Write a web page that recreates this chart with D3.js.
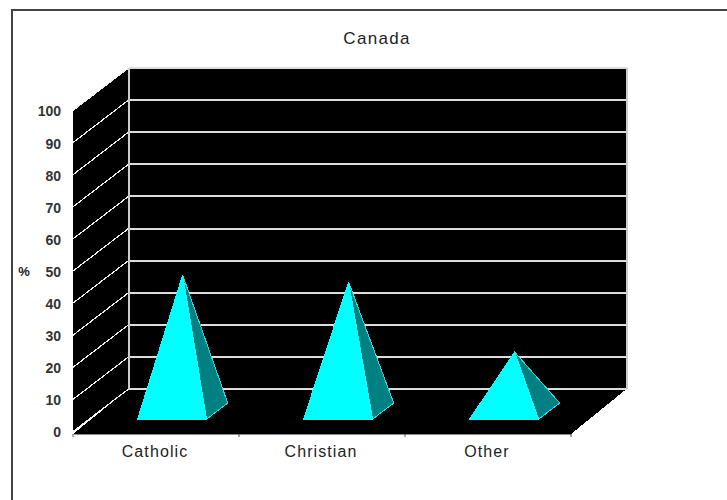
<!DOCTYPE html>
<html>
<head>
<meta charset="utf-8">
<title>Canada</title>
<style>
  html, body { margin: 0; padding: 0; background: #fff; }
  svg { display: block; }
  text { font-family: "Liberation Sans", sans-serif; fill: #222; }
  .tick-y text { font-size: 14px; font-weight: bold; fill: #333; }
  .tick-x text { font-size: 16px; letter-spacing: 1.1px; }
</style>
<script src="https://cdn.jsdelivr.net/npm/d3@7"></script>
</head>
<body>
<svg id="chart" width="727" height="500"></svg>
<script>
const categories = ["Catholic", "Christian", "Other"];
const percents = [42.4, 40.2, 18.4];
const yTicks = [0, 10, 20, 30, 40, 50, 60, 70, 80, 90, 100];

const svg = d3.select("#chart");

const depthX = 55.5; // how far the back wall is shifted from the front plane
const depthY = -42.5;

const x = d3.scaleBand().domain(categories).range([73, 571]);
const y = d3.scaleLinear().domain([0, 100]).range([431.5, 110.5]);
const halfBase = 34.5;
const floorBottom = 434;

// project a point of the front plane back to a given depth (0 front, 1 back)
function at(px, value, depth) {
  return [px + depth * depthX, y(value) + depth * depthY];
}

function poly(points, fill, stroke) {
  svg
    .append("polygon")
    .attr("points", points.map((p) => p.join(",")).join(" "))
    .attr("fill", fill)
    .attr("stroke", stroke || "none")
    .attr("shape-rendering", "crispEdges");
}

// outer frame, runs off the right and bottom edges
svg
  .append("path")
  .attr("d", "M12 500 V10 H727")
  .attr("fill", "none")
  .attr("stroke", "#444")
  .attr("stroke-width", 2);

// back wall, left wall, floor
const left = x.range()[0];
const right = x.range()[1];
poly([at(left, 100, 1), at(right, 100, 1), at(right, 0, 1), at(left, 0, 1)], "#000");
poly([at(left, 100, 0), at(left, 100, 1), at(left, 0, 1), at(left, 0, 0)], "#000");
poly([[left, floorBottom], at(left, 0, 1), at(right, 0, 1), [right, floorBottom]], "#000");

// gridlines on both walls
yTicks.forEach((t) => {
  const a = at(left, t, 0);
  const b = at(left, t, 1);
  const c = at(right, t, 1);
  svg
    .append("line")
    .attr("x1", a[0])
    .attr("y1", a[1])
    .attr("x2", b[0])
    .attr("y2", b[1])
    .attr("stroke", "#eee")
    .attr("stroke-width", 1.2)
    .attr("shape-rendering", "crispEdges");
  svg
    .append("line")
    .attr("x1", b[0])
    .attr("y1", Math.round(b[1]))
    .attr("x2", c[0])
    .attr("y2", Math.round(c[1]))
    .attr("stroke", "#ddd")
    .attr("stroke-width", 2)
    .attr("shape-rendering", "crispEdges");
});

// wall corners
[left, right].forEach((px) => {
  const top = at(px, 100, 1);
  const bottom = at(px, 0, 1);
  svg
    .append("line")
    .attr("x1", top[0])
    .attr("y1", top[1])
    .attr("x2", bottom[0])
    .attr("y2", bottom[1])
    .attr("stroke", "#ccc")
    .attr("stroke-width", 2)
    .attr("shape-rendering", "crispEdges");
});

// pyramids: base spans depth 0.29 to 0.67, apex above the middle
categories.forEach((name, i) => {
  const cx = x(name) + x.bandwidth() / 2;
  const frontLeft = at(cx - halfBase, 0, 0.29);
  const frontRight = at(cx + halfBase, 0, 0.29);
  const backRight = at(cx + halfBase, 0, 0.67);
  const apex = at(cx, percents[i], 0.48);
  poly([apex, frontRight, backRight], "#008080", "#00e8e8");
  poly([apex, frontLeft, frontRight], "#00ffff", "#00ffff");
});

// category axis, ticks sit on the band edges
const xAxis = svg
  .append("g")
  .attr("class", "tick-x")
  .attr("transform", `translate(-1,${floorBottom})`)
  .call(d3.axisBottom(x).tickSize(0).tickPadding(12));
xAxis.select(".domain").attr("stroke", "#888").attr("transform", "translate(1,0)");

const edges = categories.map((d) => x(d)).concat(right);
svg
  .selectAll(".edge")
  .data(edges)
  .enter()
  .append("line")
  .attr("class", "edge")
  .attr("x1", (d) => d)
  .attr("x2", (d) => d)
  .attr("y1", floorBottom)
  .attr("y2", floorBottom + 3)
  .attr("stroke", "#555");

// value axis
const yAxis = svg
  .append("g")
  .attr("class", "tick-y")
  .attr("transform", `translate(${left},1)`)
  .call(d3.axisLeft(y).tickValues(yTicks).tickSize(0).tickPadding(12));
yAxis.select(".domain").remove();

svg
  .append("text")
  .attr("x", 24)
  .attr("y", 276)
  .attr("text-anchor", "middle")
  .style("font-size", "13px")
  .style("font-weight", "bold")
  .text("%");

svg
  .append("text")
  .attr("x", 377)
  .attr("y", 44)
  .attr("text-anchor", "middle")
  .style("font-size", "17px")
  .style("letter-spacing", "1.3px")
  .text("Canada");
</script>
</body>
</html>
